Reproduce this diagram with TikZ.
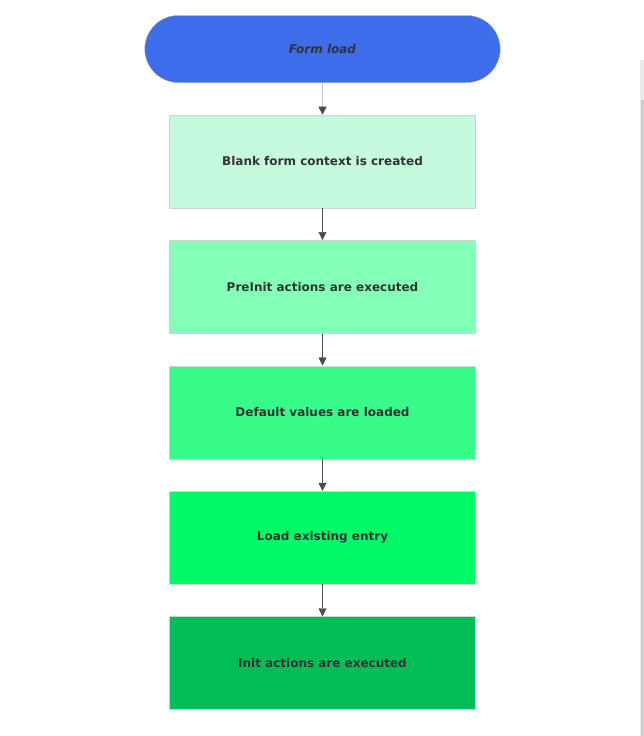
\documentclass[tikz,border=0pt]{standalone}
\usepackage{fontspec}
\setmainfont{DejaVu Sans}
\usetikzlibrary{positioning,arrows.meta,shapes.misc}

\definecolor{startblue}{HTML}{3D6DEB}
\definecolor{stepa}{HTML}{C6FADF}
\definecolor{stepb}{HTML}{84FFB7}
\definecolor{stepc}{HTML}{38FB8A}
\definecolor{stepd}{HTML}{00F966}
\definecolor{stepe}{HTML}{00BE55}
\definecolor{textgray}{HTML}{333333}

\tikzset{
    stage/.style = {draw = cyan!20!gray!40, minimum width = 306pt, minimum height = 93pt,
        inner sep = 0, font = \fontsize{12}{14}\selectfont\bfseries, text = textgray},
    flow/.style = {draw = black!70, -{Triangle[length = 8pt, width = 8pt]}}
}

\begin{document}
\begin{tikzpicture} [x = 1pt, y = 1pt, node distance = 32pt]
    \useasboundingbox (0, 0) rectangle (644, -736);
    \fill[black!8] (640, -60) rectangle (644, -736);
    \fill[black!20] (641, -100) rectangle (644, -736);

    \node[rounded rectangle, draw = gray!70, fill = startblue, minimum width = 362pt,
        minimum height = 67pt, font = \fontsize{12}{14}\selectfont\bfseries\itshape,
        text = textgray] (load) at (322.5, -49) {Form load};
    \node[stage, fill = stepa, below = of load] (context) {Blank form context is created};
    \node[stage, fill = stepb, below = of context] (preinit) {PreInit actions are executed};
    \node[stage, fill = stepc, below = of preinit] (defaults) {Default values are loaded};
    \node[stage, fill = stepd, below = of defaults] (entry) {Load existing entry};
    \node[stage, fill = stepe, below = of entry] (init) {Init actions are executed};

    \draw[flow] (load) -- (context);
    \draw[flow] (context) -- (preinit);
    \draw[flow] (preinit) -- (defaults);
    \draw[flow] (defaults) -- (entry);
    \draw[flow] (entry) -- (init);
\end{tikzpicture}
\end{document}
